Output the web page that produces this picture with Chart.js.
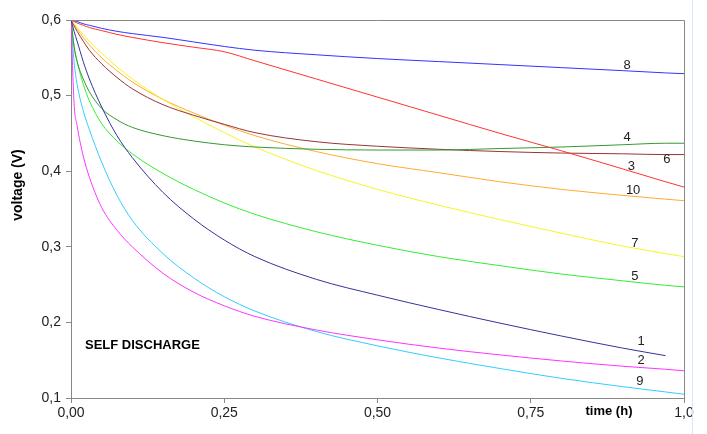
<!DOCTYPE html>
<html>
<head>
<meta charset="utf-8">
<script src="https://cdn.jsdelivr.net/npm/chart.js@4.4.1/dist/chart.umd.min.js"></script>
<style>
  html, body { margin: 0; padding: 0; background: #fff; }
  #wrap { width: 707px; height: 434px; }
</style>
</head>
<body>
<div id="wrap"><canvas id="chart" width="707" height="434"></canvas></div>
<script>
// time (h) shared by all curves
const times = [0, 0.005, 0.01, 0.02, 0.03, 0.05, 0.075, 0.1, 0.15, 0.2, 0.25, 0.3, 0.4, 0.5, 0.6, 0.7, 0.8, 0.9, 0.97, 1.0];

// voltage (V) per curve
const curve1 = [0.6, 0.585, 0.572, 0.545, 0.522, 0.485, 0.447, 0.418, 0.372, 0.337, 0.309, 0.287, 0.257, 0.236, 0.217, 0.199, 0.182, 0.166, 0.156, null];
const curve2 = [0.6, 0.49, 0.46, 0.42, 0.392, 0.352, 0.322, 0.300, 0.265, 0.240, 0.222, 0.208, 0.190, 0.177, 0.166, 0.157, 0.149, 0.142, 0.138, 0.136];
const curve3 = [0.6, 0.598, 0.596, 0.593, 0.590, 0.586, 0.581, 0.577, 0.570, 0.564, 0.558, 0.546, 0.522, 0.498, 0.474, 0.450, 0.427, 0.403, 0.386, 0.379];
const curve4 = [0.6, 0.565, 0.545, 0.522, 0.505, 0.483, 0.468, 0.458, 0.447, 0.440, 0.435, 0.432, 0.429, 0.428, 0.428, 0.430, 0.432, 0.435, 0.437, 0.437];
const curve5 = [0.6, 0.565, 0.545, 0.515, 0.493, 0.463, 0.440, 0.423, 0.397, 0.376, 0.358, 0.343, 0.320, 0.302, 0.287, 0.275, 0.264, 0.255, 0.249, 0.247];
const curve6 = [0.6, 0.592, 0.585, 0.572, 0.560, 0.542, 0.524, 0.509, 0.488, 0.474, 0.462, 0.451, 0.439, 0.433, 0.429, 0.426, 0.424, 0.423, 0.422, 0.422];
const curve7 = [0.6, 0.595, 0.590, 0.581, 0.572, 0.556, 0.538, 0.522, 0.495, 0.472, 0.451, 0.432, 0.401, 0.376, 0.355, 0.336, 0.318, 0.301, 0.291, 0.287];
const curve8 = [0.6, 0.599, 0.598, 0.595, 0.593, 0.589, 0.585, 0.582, 0.577, 0.571, 0.565, 0.560, 0.554, 0.549, 0.545, 0.541, 0.537, 0.533, 0.530, 0.529];
const curve9 = [0.6, 0.545, 0.515, 0.48, 0.455, 0.412, 0.368, 0.335, 0.291, 0.259, 0.234, 0.215, 0.188, 0.169, 0.153, 0.139, 0.126, 0.115, 0.108, 0.105];
const curve10 = [0.6, 0.594, 0.588, 0.577, 0.567, 0.550, 0.533, 0.518, 0.495, 0.477, 0.461, 0.447, 0.426, 0.410, 0.398, 0.386, 0.376, 0.368, 0.363, 0.361];

const curveNames = ["1", "2", "3", "4", "5", "6", "7", "8", "9", "10"];
const curveValues = [curve1, curve2, curve3, curve4, curve5, curve6, curve7, curve8, curve9, curve10];

// where each curve number is written (time, voltage)
const labelTimes = [0.930, 0.930, 0.914, 0.907, 0.920, 0.972, 0.920, 0.907, 0.928, 0.917];
const labelVolts = [0.175, 0.150, 0.406, 0.445, 0.261, 0.415, 0.305, 0.540, 0.122, 0.375];

const xTickLabels = ["0,00", "0,25", "0,50", "0,75", "1,0"];
const yTickLabels = ["0,1", "0,2", "0,3", "0,4", "0,5", "0,6"];

const COLORS = ["#333399", "#ff33ff", "#ff3333", "#339933", "#33ee33", "#993333", "#f5f522", "#3333ff", "#33ccff", "#ffaa33"];
const FONT = '"Liberation Sans", Arial, sans-serif';
const AXIS = "#888888";

const datasets = curveValues.map((values, i) => ({
  label: curveNames[i],
  data: times.map((t, j) => ({ x: t, y: values[j] })).filter(p => p.y !== null),
  borderColor: COLORS[i],
  borderWidth: 1,
  pointRadius: 0,
  fill: false,
  cubicInterpolationMode: "monotone",
}));

const decorations = {
  id: "decorations",
  afterDraw(chart) {
    const { ctx, chartArea: a, scales } = chart;
    ctx.save();
    ctx.strokeStyle = AXIS;
    ctx.lineWidth = 1;
    ctx.beginPath();
    ctx.moveTo(a.left, a.top + 0.5);
    ctx.lineTo(a.right + 0.5, a.top + 0.5);
    ctx.lineTo(a.right + 0.5, a.bottom);
    ctx.stroke();

    ctx.strokeStyle = "#d6e6f8";
    ctx.beginPath();
    ctx.moveTo(692.5, 0);
    ctx.lineTo(692.5, 434);
    ctx.stroke();

    ctx.fillStyle = "#222";
    ctx.font = "13px " + FONT;
    ctx.textAlign = "center";
    ctx.textBaseline = "middle";
    curveNames.forEach((name, i) => {
      ctx.fillText(name, scales.x.getPixelForValue(labelTimes[i]), scales.y.getPixelForValue(labelVolts[i]));
    });

    ctx.fillStyle = "#000";
    ctx.font = "bold 13px " + FONT;
    ctx.textAlign = "left";
    ctx.fillText("SELF DISCHARGE", 85, 345);
    ctx.textAlign = "center";
    ctx.fillText("time (h)", 609, 411);
    ctx.font = "bold 14px " + FONT;
    ctx.translate(18, 185);
    ctx.rotate(-Math.PI / 2);
    ctx.fillText("voltage (V)", 0, 0);
    ctx.restore();
  },
};

new Chart(document.getElementById("chart"), {
  type: "line",
  data: { datasets },
  plugins: [decorations],
  options: {
    responsive: false,
    animation: false,
    layout: { padding: { top: 20, right: 23, left: 0, bottom: 0 } },
    plugins: { legend: { display: false }, tooltip: { enabled: false } },
    scales: {
      x: {
        type: "linear",
        min: 0,
        max: 1,
        afterFit(scale) { scale.height = 36; },
        afterBuildTicks(scale) {
          scale.ticks = xTickLabels.map((_, i) => ({ value: i * 0.25 }));
        },
        ticks: {
          padding: 2,
          color: "#222",
          font: { family: FONT, size: 14 },
          maxRotation: 0,
          callback: (value, i) => xTickLabels[i],
        },
        grid: { drawOnChartArea: false, drawTicks: true, tickLength: 5, color: AXIS },
        border: { color: AXIS },
      },
      y: {
        type: "linear",
        min: 0.1,
        max: 0.6,
        afterFit(scale) { scale.width = 71; },
        afterBuildTicks(scale) {
          scale.ticks = yTickLabels.map((_, i) => ({ value: 0.1 + i * 0.1 }));
        },
        ticks: {
          padding: 5,
          color: "#222",
          font: { family: FONT, size: 14 },
          callback: (value, i) => yTickLabels[i],
        },
        grid: { drawOnChartArea: false, drawTicks: true, tickLength: 5, color: AXIS },
        border: { color: AXIS },
      },
    },
  },
});
</script>
</body>
</html>
